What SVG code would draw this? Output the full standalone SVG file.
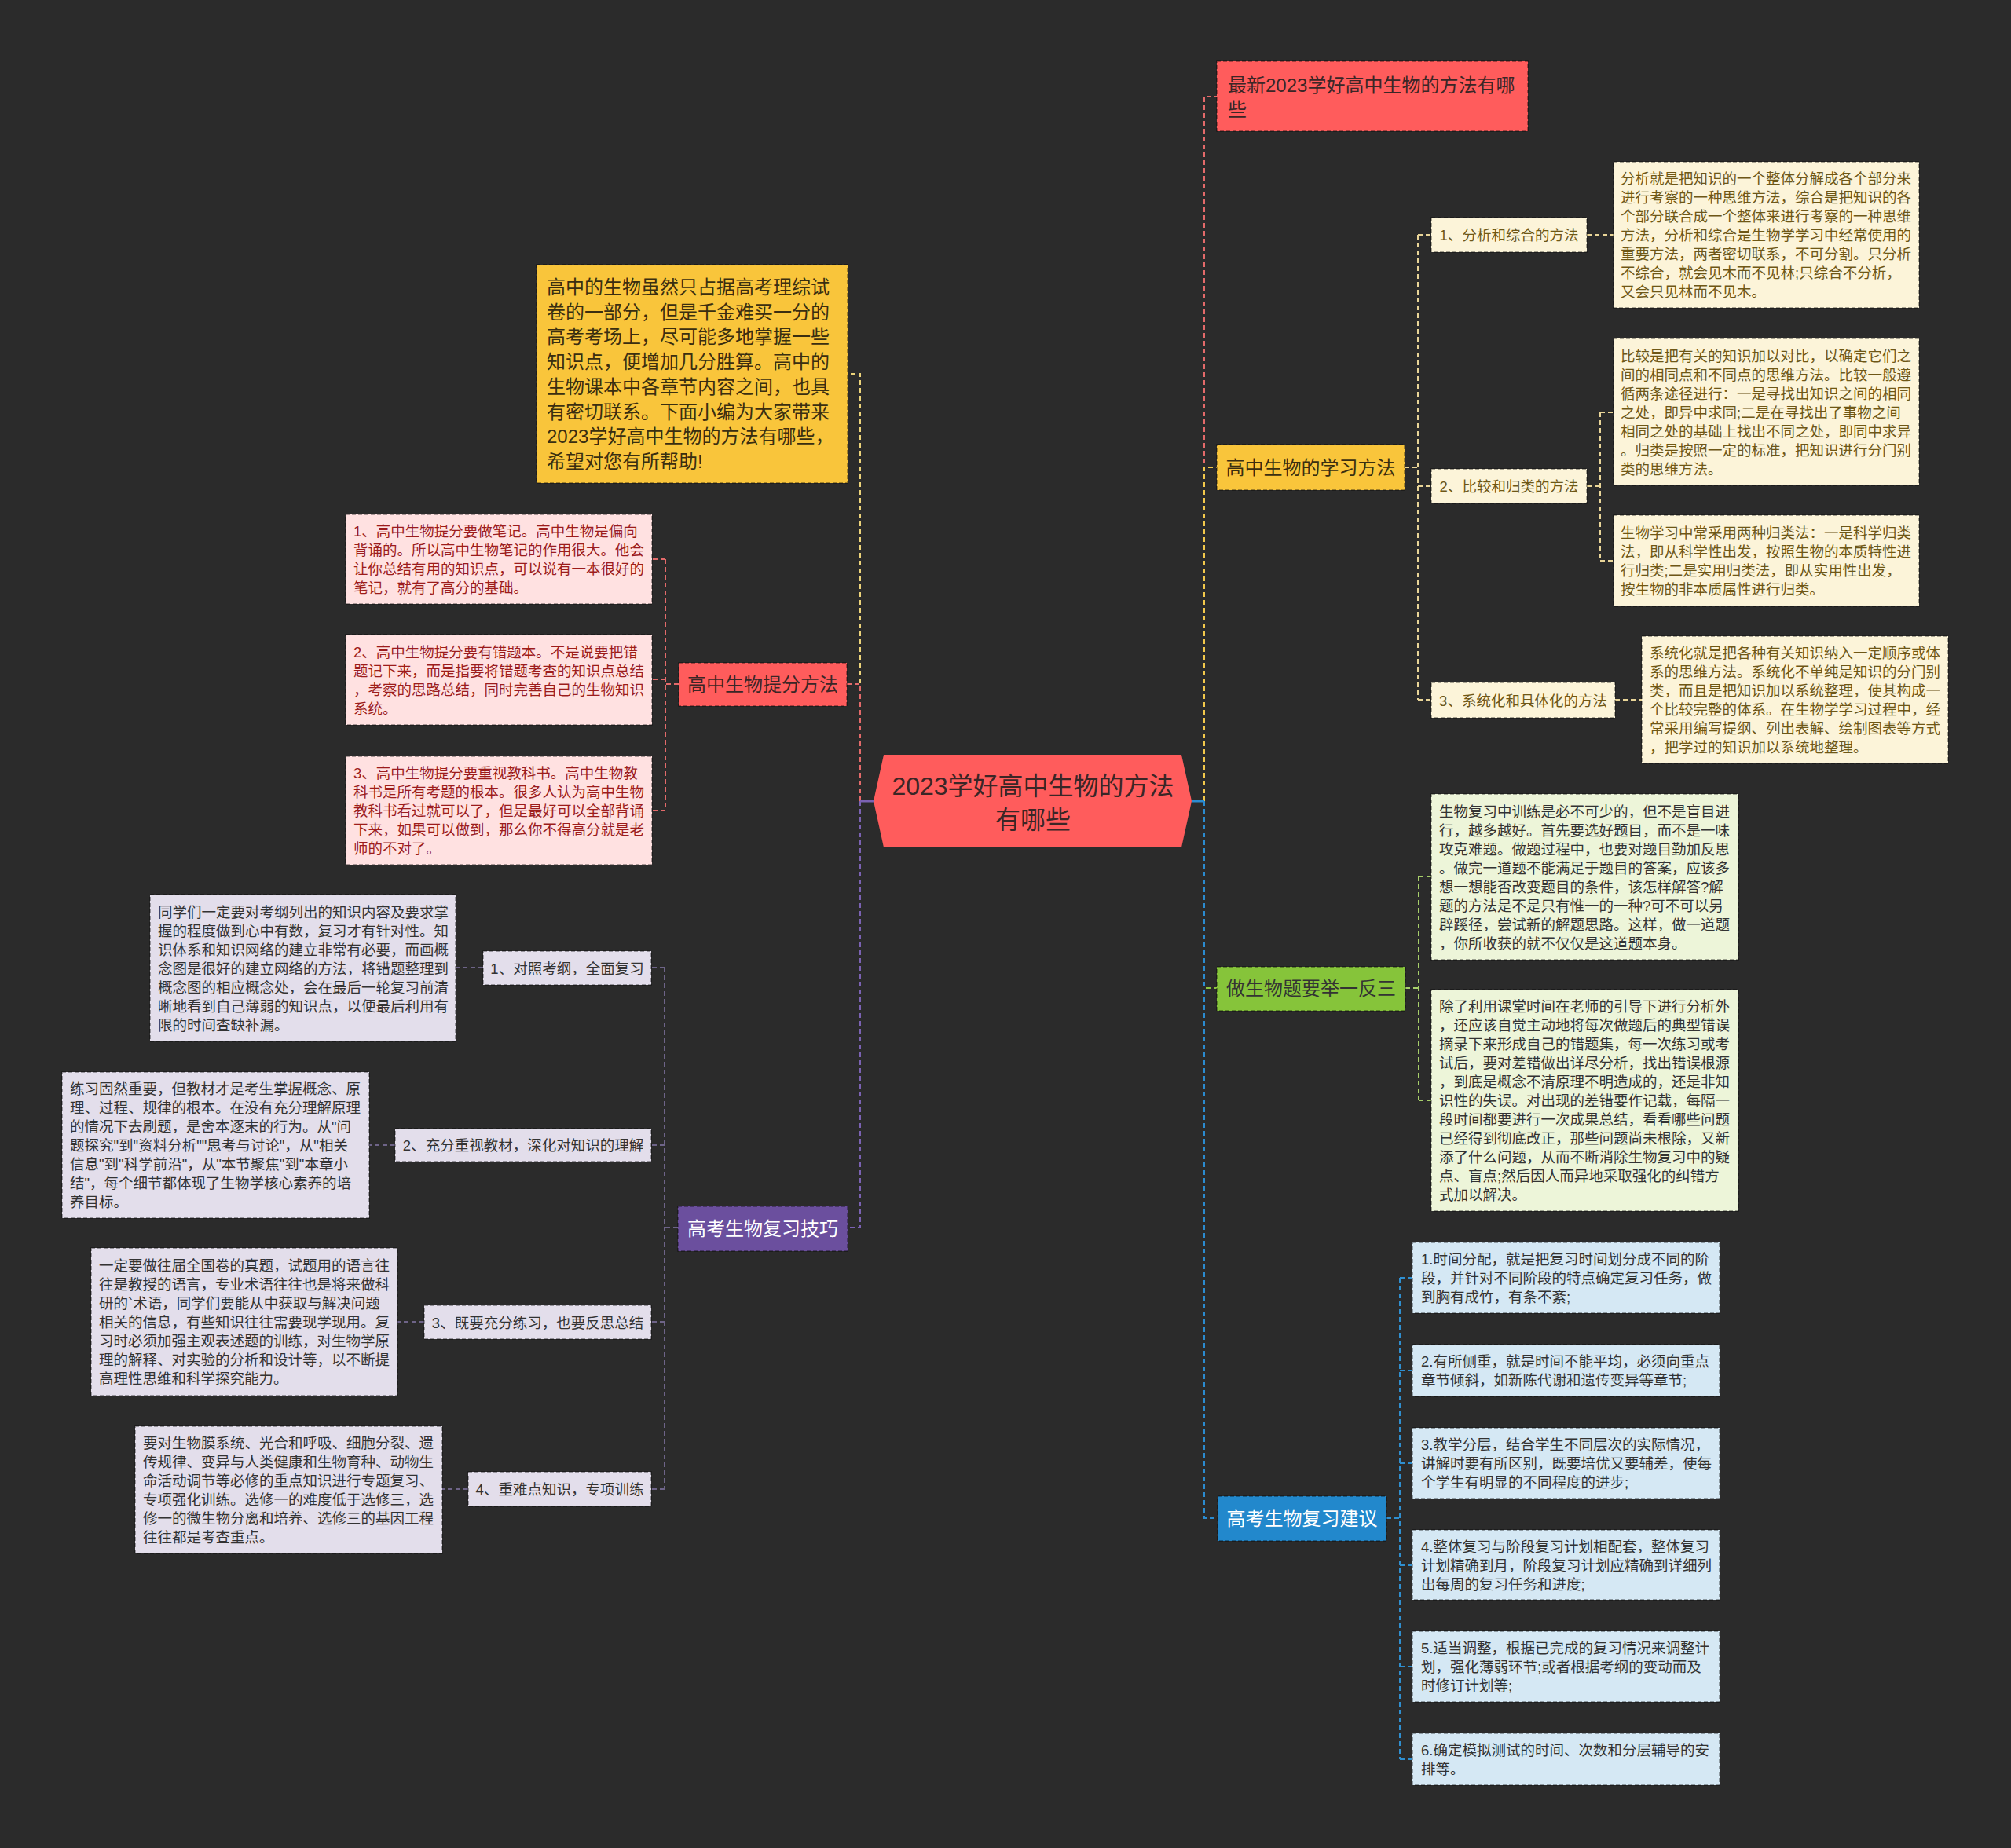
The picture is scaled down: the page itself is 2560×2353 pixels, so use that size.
<svg xmlns="http://www.w3.org/2000/svg" width="2560" height="2353" viewBox="0 0 2560 2353">
<style>
text{font-family:"Liberation Sans","Noto Sans CJK SC",sans-serif;}
.nb{stroke:rgba(0,0,0,0.45);stroke-width:1.5;stroke-dasharray:5 3;}
.c{fill:none;stroke-width:2;stroke-dasharray:6 4;}
.s{font-size:18.5px;}
.m{font-size:24px;}
.mid{text-anchor:middle;}
.cream{fill:#fcf4d9;} .creamT{fill:#6e5716;}
.pink{fill:#ffe1e1;} .pinkT{fill:#9c1c1c;}
.lav{fill:#e3deeb;} .dark{fill:#333333;}
.lgreen{fill:#edf5d9;} .lblue{fill:#d5e8f4;}
</style>
<rect x="0" y="0" width="2560" height="2353" fill="#2b2b2b"/>

<g id="connectors">
  <!-- left main -->
  <path class="c" stroke="#ecd37a" d="M1095 1020 V476 H1079"/>
  <path class="c" stroke="#e36a6a" d="M1095 1020 V871 H1078"/>
  <path class="c" stroke="#7b62b3" d="M1095 1020 V1563 H1079"/>
  <path fill="none" stroke="#7b62b3" stroke-width="3" d="M1113 1020 H1095"/>
  <!-- right main -->
  <path class="c" stroke="#e36a6a" d="M1533 1020 V123 H1549"/>
  <path class="c" stroke="#f2c84b" d="M1533 1020 V595 H1549"/>
  <path class="c" stroke="#8dc63f" d="M1533 1020 V1258 H1549"/>
  <path class="c" stroke="#2b8bd0" d="M1533 1020 V1933 H1550"/>
  <path fill="none" stroke="#2b8bd0" stroke-width="3" d="M1517 1020 H1533"/>
  <!-- learning methods -->
  <path class="c" stroke="#e9d598" d="M1788 595 H1805 M1805 299 V891 M1805 299 H1822 M1805 619 H1822 M1805 891 H1822"/>
  <path class="c" stroke="#e9d598" d="M2020 299 H2054 M2020 619 H2037 M2037 525 V714 M2037 525 H2054 M2037 714 H2054 M2056 891 H2090"/>
  <!-- green -->
  <path class="c" stroke="#a7cf6a" d="M1789 1258 H1806 M1806 1116 V1401 M1806 1116 H1822 M1806 1401 H1822"/>
  <!-- blue -->
  <path class="c" stroke="#2f8fd0" d="M1765 1933 H1782 M1782 1627 V2240 M1782 1627 H1798 M1782 1745 H1798 M1782 1863 H1798 M1782 1993 H1798 M1782 2122 H1798 M1782 2240 H1798"/>
  <!-- pink -->
  <path class="c" stroke="#e36a6a" d="M864 871 H847 M847 712 V1032 M847 712 H830 M847 865 H830 M847 1032 H830"/>
  <!-- lavender -->
  <path class="c" stroke="#6e6488" d="M863 1563 H846 M846 1232 V1896 M846 1232 H829 M846 1458 H829 M846 1683 H829 M846 1896 H829 M615 1232 H580 M503 1458 H470 M540 1683 H506 M596 1896 H563"/>
</g>

<g id="center">
  <polygon points="1125,961 1504,961 1517,1020 1504,1079 1125,1079 1112,1020" fill="#ff5c5c"/>
  <text x="1315" y="1012" font-size="32" class="mid" fill="#3b2626">2023学好高中生物的方法</text>
  <text x="1315" y="1055" font-size="32" class="mid" fill="#3b2626">有哪些</text>
</g>

<g id="intro">
  <rect x="683" y="337" width="396" height="278" fill="#f9c53b" class="nb"/>
  <g class="m" fill="#3a2e10">
    <text x="696" y="374">高中的生物虽然只占据高考理综试</text>
    <text x="696" y="405.7">卷的一部分，但是千金难买一分的</text>
    <text x="696" y="437.4">高考考场上，尽可能多地掌握一些</text>
    <text x="696" y="469.1">知识点，便增加几分胜算。高中的</text>
    <text x="696" y="500.8">生物课本中各章节内容之间，也具</text>
    <text x="696" y="532.5">有密切联系。下面小编为大家带来</text>
    <text x="696" y="564.2">2023学好高中生物的方法有哪些，</text>
    <text x="696" y="595.9">希望对您有所帮助!</text>
  </g>
</g>

<g id="tifen">
  <rect x="864" y="844" width="214" height="55" fill="#ff5c5c" class="nb"/>
  <text x="971" y="880" class="m mid" fill="#3b2626">高中生物提分方法</text>
</g>
<g id="tifen1">
  <rect x="440" y="655" width="390" height="114" class="pink nb"/>
  <g class="s pinkT">
    <text x="450" y="683">1、高中生物提分要做笔记。高中生物是偏向</text>
    <text x="450" y="707">背诵的。所以高中生物笔记的作用很大。他会</text>
    <text x="450" y="731">让你总结有用的知识点，可以说有一本很好的</text>
    <text x="450" y="755">笔记，就有了高分的基础。</text>
  </g>
</g>
<g id="tifen2">
  <rect x="440" y="808" width="390" height="115" class="pink nb"/>
  <g class="s pinkT">
    <text x="450" y="836.5">2、高中生物提分要有错题本。不是说要把错</text>
    <text x="450" y="860.5">题记下来，而是指要将错题考查的知识点总结</text>
    <text x="450" y="884.5">，考察的思路总结，同时完善自己的生物知识</text>
    <text x="450" y="908.5">系统。</text>
  </g>
</g>
<g id="tifen3">
  <rect x="440" y="963" width="390" height="138" class="pink nb"/>
  <g class="s pinkT">
    <text x="450" y="991">3、高中生物提分要重视教科书。高中生物教</text>
    <text x="450" y="1015">科书是所有考题的根本。很多人认为高中生物</text>
    <text x="450" y="1039">教科书看过就可以了，但是最好可以全部背诵</text>
    <text x="450" y="1063">下来，如果可以做到，那么你不得高分就是老</text>
    <text x="450" y="1087">师的不对了。</text>
  </g>
</g>

<g id="jiqiao">
  <rect x="863" y="1536" width="216" height="57" fill="#6b4f9e" class="nb"/>
  <text x="971" y="1573" class="m mid" fill="#ffffff">高考生物复习技巧</text>
</g>
<g id="jq1">
  <rect x="615" y="1211" width="214" height="43" class="lav nb"/>
  <text x="722" y="1239.5" class="s mid dark">1、对照考纲，全面复习</text>
</g>
<g id="jq1d">
  <rect x="191" y="1139" width="389" height="187" class="lav nb"/>
  <g class="s dark">
    <text x="201" y="1167.5">同学们一定要对考纲列出的知识内容及要求掌</text>
    <text x="201" y="1191.5">握的程度做到心中有数，复习才有针对性。知</text>
    <text x="201" y="1215.5">识体系和知识网络的建立非常有必要，而画概</text>
    <text x="201" y="1239.5">念图是很好的建立网络的方法，将错题整理到</text>
    <text x="201" y="1263.5">概念图的相应概念处，会在最后一轮复习前清</text>
    <text x="201" y="1287.5">晰地看到自己薄弱的知识点，以便最后利用有</text>
    <text x="201" y="1311.5">限的时间查缺补漏。</text>
  </g>
</g>
<g id="jq2">
  <rect x="503" y="1437" width="326" height="42" class="lav nb"/>
  <text x="666" y="1465" class="s mid dark">2、充分重视教材，深化对知识的理解</text>
</g>
<g id="jq2d">
  <rect x="79" y="1365" width="391" height="186" class="lav nb"/>
  <g class="s dark">
    <text x="89" y="1393">练习固然重要，但教材才是考生掌握概念、原</text>
    <text x="89" y="1417">理、过程、规律的根本。在没有充分理解原理</text>
    <text x="89" y="1441">的情况下去刷题，是舍本逐末的行为。从"问</text>
    <text x="89" y="1465">题探究"到"资料分析""思考与讨论"，从"相关</text>
    <text x="89" y="1489">信息"到"科学前沿"，从"本节聚焦"到"本章小</text>
    <text x="89" y="1513">结"，每个细节都体现了生物学核心素养的培</text>
    <text x="89" y="1537">养目标。</text>
  </g>
</g>
<g id="jq3">
  <rect x="540" y="1662" width="289" height="43" class="lav nb"/>
  <text x="684.5" y="1690.5" class="s mid dark">3、既要充分练习，也要反思总结</text>
</g>
<g id="jq3d">
  <rect x="116" y="1589" width="390" height="188" class="lav nb"/>
  <g class="s dark">
    <text x="126" y="1618">一定要做往届全国卷的真题，试题用的语言往</text>
    <text x="126" y="1642">往是教授的语言，专业术语往往也是将来做科</text>
    <text x="126" y="1666">研的`术语，同学们要能从中获取与解决问题</text>
    <text x="126" y="1690">相关的信息，有些知识往往需要现学现用。复</text>
    <text x="126" y="1714">习时必须加强主观表述题的训练，对生物学原</text>
    <text x="126" y="1738">理的解释、对实验的分析和设计等，以不断提</text>
    <text x="126" y="1762">高理性思维和科学探究能力。</text>
  </g>
</g>
<g id="jq4">
  <rect x="596" y="1874" width="233" height="44" class="lav nb"/>
  <text x="712.5" y="1903" class="s mid dark">4、重难点知识，专项训练</text>
</g>
<g id="jq4d">
  <rect x="172" y="1816" width="391" height="162" class="lav nb"/>
  <g class="s dark">
    <text x="182" y="1844">要对生物膜系统、光合和呼吸、细胞分裂、遗</text>
    <text x="182" y="1868">传规律、变异与人类健康和生物育种、动物生</text>
    <text x="182" y="1892">命活动调节等必修的重点知识进行专题复习、</text>
    <text x="182" y="1916">专项强化训练。选修一的难度低于选修三，选</text>
    <text x="182" y="1940">修一的微生物分离和培养、选修三的基因工程</text>
    <text x="182" y="1964">往往都是考查重点。</text>
  </g>
</g>

<g id="title">
  <rect x="1549" y="78" width="396" height="89" fill="#ff5c5c" class="nb"/>
  <text x="1563" y="117" class="m" fill="#3b2626">最新2023学好高中生物的方法有哪</text>
  <text x="1563" y="148" class="m" fill="#3b2626">些</text>
</g>

<g id="xuexi">
  <rect x="1549" y="566" width="239" height="58" fill="#f9c53b" class="nb"/>
  <text x="1668.5" y="604" class="m mid" fill="#3a2e10">高中生物的学习方法</text>
</g>
<g id="xx1">
  <rect x="1822" y="277" width="198" height="44" class="cream nb"/>
  <text x="1921" y="306" class="s mid creamT">1、分析和综合的方法</text>
</g>
<g id="xx1d">
  <rect x="2054" y="206" width="389" height="186" class="cream nb"/>
  <g class="s creamT">
    <text x="2063" y="234">分析就是把知识的一个整体分解成各个部分来</text>
    <text x="2063" y="258">进行考察的一种思维方法，综合是把知识的各</text>
    <text x="2063" y="282">个部分联合成一个整体来进行考察的一种思维</text>
    <text x="2063" y="306">方法，分析和综合是生物学学习中经常使用的</text>
    <text x="2063" y="330">重要方法，两者密切联系，不可分割。只分析</text>
    <text x="2063" y="354">不综合，就会见木而不见林;只综合不分析，</text>
    <text x="2063" y="378">又会只见林而不见木。</text>
  </g>
</g>
<g id="xx2">
  <rect x="1822" y="597" width="198" height="44" class="cream nb"/>
  <text x="1921" y="626" class="s mid creamT">2、比较和归类的方法</text>
</g>
<g id="xx2a">
  <rect x="2054" y="431" width="389" height="187" class="cream nb"/>
  <g class="s creamT">
    <text x="2063" y="459.5">比较是把有关的知识加以对比，以确定它们之</text>
    <text x="2063" y="483.5">间的相同点和不同点的思维方法。比较一般遵</text>
    <text x="2063" y="507.5">循两条途径进行：一是寻找出知识之间的相同</text>
    <text x="2063" y="531.5">之处，即异中求同;二是在寻找出了事物之间</text>
    <text x="2063" y="555.5">相同之处的基础上找出不同之处，即同中求异</text>
    <text x="2063" y="579.5">。归类是按照一定的标准，把知识进行分门别</text>
    <text x="2063" y="603.5">类的思维方法。</text>
  </g>
</g>
<g id="xx2b">
  <rect x="2054" y="656" width="389" height="116" class="cream nb"/>
  <g class="s creamT">
    <text x="2063" y="685">生物学习中常采用两种归类法：一是科学归类</text>
    <text x="2063" y="709">法，即从科学性出发，按照生物的本质特性进</text>
    <text x="2063" y="733">行归类;二是实用归类法，即从实用性出发，</text>
    <text x="2063" y="757">按生物的非本质属性进行归类。</text>
  </g>
</g>
<g id="xx3">
  <rect x="1822" y="869" width="234" height="45" class="cream nb"/>
  <text x="1939" y="898.5" class="s mid creamT">3、系统化和具体化的方法</text>
</g>
<g id="xx3d">
  <rect x="2090" y="810" width="390" height="162" class="cream nb"/>
  <g class="s creamT">
    <text x="2100" y="838">系统化就是把各种有关知识纳入一定顺序或体</text>
    <text x="2100" y="862">系的思维方法。系统化不单纯是知识的分门别</text>
    <text x="2100" y="886">类，而且是把知识加以系统整理，使其构成一</text>
    <text x="2100" y="910">个比较完整的体系。在生物学学习过程中，经</text>
    <text x="2100" y="934">常采用编写提纲、列出表解、绘制图表等方式</text>
    <text x="2100" y="958">，把学过的知识加以系统地整理。</text>
  </g>
</g>

<g id="jusan">
  <rect x="1549" y="1231" width="240" height="56" fill="#86c43a" class="nb"/>
  <text x="1669" y="1267" class="m mid" fill="#333333">做生物题要举一反三</text>
</g>
<g id="js1">
  <rect x="1822" y="1011" width="391" height="211" class="lgreen nb"/>
  <g class="s dark">
    <text x="1832" y="1039.5">生物复习中训练是必不可少的，但不是盲目进</text>
    <text x="1832" y="1063.5">行，越多越好。首先要选好题目，而不是一味</text>
    <text x="1832" y="1087.5">攻克难题。做题过程中，也要对题目勤加反思</text>
    <text x="1832" y="1111.5">。做完一道题不能满足于题目的答案，应该多</text>
    <text x="1832" y="1135.5">想一想能否改变题目的条件，该怎样解答?解</text>
    <text x="1832" y="1159.5">题的方法是不是只有惟一的一种?可不可以另</text>
    <text x="1832" y="1183.5">辟蹊径，尝试新的解题思路。这样，做一道题</text>
    <text x="1832" y="1207.5">，你所收获的就不仅仅是这道题本身。</text>
  </g>
</g>
<g id="js2">
  <rect x="1822" y="1260" width="391" height="282" class="lgreen nb"/>
  <g class="s dark">
    <text x="1832" y="1288">除了利用课堂时间在老师的引导下进行分析外</text>
    <text x="1832" y="1312">，还应该自觉主动地将每次做题后的典型错误</text>
    <text x="1832" y="1336">摘录下来形成自己的错题集，每一次练习或考</text>
    <text x="1832" y="1360">试后，要对差错做出详尽分析，找出错误根源</text>
    <text x="1832" y="1384">，到底是概念不清原理不明造成的，还是非知</text>
    <text x="1832" y="1408">识性的失误。对出现的差错要作记载，每隔一</text>
    <text x="1832" y="1432">段时间都要进行一次成果总结，看看哪些问题</text>
    <text x="1832" y="1456">已经得到彻底改正，那些问题尚未根除，又新</text>
    <text x="1832" y="1480">添了什么问题，从而不断消除生物复习中的疑</text>
    <text x="1832" y="1504">点、盲点;然后因人而异地采取强化的纠错方</text>
    <text x="1832" y="1528">式加以解决。</text>
  </g>
</g>

<g id="jianyi">
  <rect x="1550" y="1905" width="215" height="57" fill="#2288cc" class="nb"/>
  <text x="1657.5" y="1942" class="m mid" fill="#ffffff">高考生物复习建议</text>
</g>
<g id="jy1">
  <rect x="1798" y="1582" width="391" height="90" class="lblue nb"/>
  <g class="s dark">
    <text x="1809" y="1610">1.时间分配，就是把复习时间划分成不同的阶</text>
    <text x="1809" y="1634">段，并针对不同阶段的特点确定复习任务，做</text>
    <text x="1809" y="1658">到胸有成竹，有条不紊;</text>
  </g>
</g>
<g id="jy2">
  <rect x="1798" y="1712" width="391" height="66" class="lblue nb"/>
  <g class="s dark">
    <text x="1809" y="1740">2.有所侧重，就是时间不能平均，必须向重点</text>
    <text x="1809" y="1764">章节倾斜，如新陈代谢和遗传变异等章节;</text>
  </g>
</g>
<g id="jy3">
  <rect x="1798" y="1818" width="391" height="90" class="lblue nb"/>
  <g class="s dark">
    <text x="1809" y="1846">3.教学分层，结合学生不同层次的实际情况，</text>
    <text x="1809" y="1870">讲解时要有所区别，既要培优又要辅差，使每</text>
    <text x="1809" y="1894">个学生有明显的不同程度的进步;</text>
  </g>
</g>
<g id="jy4">
  <rect x="1798" y="1948" width="391" height="89" class="lblue nb"/>
  <g class="s dark">
    <text x="1809" y="1975.5">4.整体复习与阶段复习计划相配套，整体复习</text>
    <text x="1809" y="1999.5">计划精确到月，阶段复习计划应精确到详细列</text>
    <text x="1809" y="2023.5">出每周的复习任务和进度;</text>
  </g>
</g>
<g id="jy5">
  <rect x="1798" y="2077" width="391" height="90" class="lblue nb"/>
  <g class="s dark">
    <text x="1809" y="2105">5.适当调整，根据已完成的复习情况来调整计</text>
    <text x="1809" y="2129">划，强化薄弱环节;或者根据考纲的变动而及</text>
    <text x="1809" y="2153">时修订计划等;</text>
  </g>
</g>
<g id="jy6">
  <rect x="1798" y="2207" width="391" height="66" class="lblue nb"/>
  <g class="s dark">
    <text x="1809" y="2235">6.确定模拟测试的时间、次数和分层辅导的安</text>
    <text x="1809" y="2259">排等。</text>
  </g>
</g>
</svg>
